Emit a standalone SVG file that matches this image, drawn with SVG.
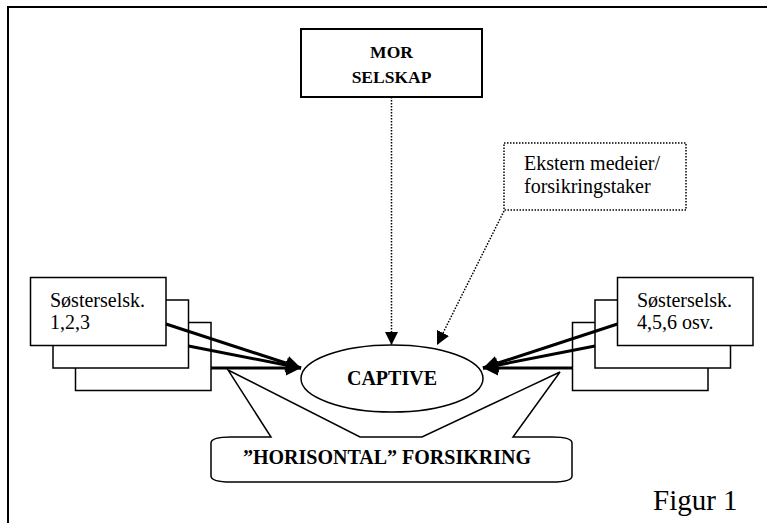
<svg xmlns="http://www.w3.org/2000/svg" width="767" height="523" viewBox="0 0 767 523">
<defs>
<style>
.box{fill:#fff;stroke:#000;stroke-width:1.5}
.bold{font-family:"Liberation Serif","Times New Roman",serif;font-weight:bold;fill:#000}
.reg{font-family:"Liberation Serif","Times New Roman",serif;fill:#000}
.thick{stroke:#000;stroke-width:3;fill:none;marker-end:url(#big)}
.dot{stroke:#000;stroke-width:1.5;stroke-dasharray:1.5 1.5;fill:none;marker-end:url(#small)}
</style>
<marker id="big" viewBox="0 0 10 10" refX="10" refY="5" markerWidth="5.5" markerHeight="5" markerUnits="strokeWidth" orient="auto">
<path d="M0,0 L10,5 L0,10 Z" fill="#000"/>
</marker>
<marker id="small" viewBox="0 0 10 10" refX="10" refY="5" markerWidth="9" markerHeight="9" markerUnits="strokeWidth" orient="auto">
<path d="M0,0 L10,5 L0,10 Z" fill="#000"/>
</marker>
</defs>
<rect width="767" height="523" fill="#fff"/>
<path d="M8,523 L8,7 L767,7" fill="none" stroke="#000" stroke-width="2"/>

<g id="mor">
<rect x="301" y="29" width="181" height="68" fill="#fff" stroke="#000" stroke-width="2"/>
<text class="bold" font-size="17.5" x="391.5" y="58" text-anchor="middle">MOR</text>
<text class="bold" font-size="17.5" x="391.5" y="83" text-anchor="middle">SELSKAP</text>
</g>

<g id="ekstern">
<rect x="504" y="143" width="182" height="67" fill="#fff" stroke="#000" stroke-width="1.5" stroke-dasharray="1.5 1.5"/>
<text class="reg" font-size="20" x="524" y="170">Ekstern medeier/</text>
<text class="reg" font-size="20" x="524" y="193">forsikringstaker</text>
</g>

<g id="horisontal">
<path class="box" d="M231,437 L271,437 L228,370 L360,437 L422,437 L560,372 L513,437 L552,437 Q572,437 572,443 L572,476 Q572,482 552,482 L231,482 Q211,482 211,476 L211,443 Q211,437 231,437 Z"/>
<text class="bold" font-size="20" x="387" y="464" text-anchor="middle">”HORISONTAL” FORSIKRING</text>
</g>

<g id="soster-left">
<rect class="box" x="75.5" y="322.5" width="135.5" height="68"/>
<rect class="box" x="53" y="300" width="135.5" height="68"/>
<rect class="box" x="30.5" y="277.5" width="135.5" height="68"/>
<text class="reg" font-size="20" x="50" y="307">Søsterselsk.</text>
<text class="reg" font-size="20" x="50" y="329">1,2,3</text>
</g>

<g id="soster-right">
<rect class="box" x="572.5" y="322.5" width="135.5" height="68"/>
<rect class="box" x="595" y="300" width="135.5" height="68"/>
<rect class="box" x="617.5" y="277.5" width="135.5" height="68"/>
<text class="reg" font-size="20" x="637" y="307">Søsterselsk.</text>
<text class="reg" font-size="20" x="637" y="329">4,5,6 osv.</text>
</g>

<g id="captive">
<ellipse cx="392" cy="378.5" rx="91" ry="33.5" fill="#fff" stroke="#000" stroke-width="1.5"/>
<text class="bold" font-size="20" x="392" y="385" text-anchor="middle">CAPTIVE</text>
</g>

<g id="connectors">
<line class="dot" x1="391.5" y1="97" x2="391.5" y2="345"/>
<line class="dot" x1="504" y1="211" x2="437" y2="345"/>
<line class="thick" x1="166" y1="324" x2="301" y2="368"/>
<line class="thick" x1="188.5" y1="346" x2="301" y2="368"/>
<line class="thick" x1="211" y1="368" x2="301" y2="368"/>
<line class="thick" x1="617.5" y1="324" x2="483" y2="368"/>
<line class="thick" x1="595" y1="346" x2="483" y2="368"/>
<line class="thick" x1="572.5" y1="368" x2="483" y2="368"/>
</g>

<text class="reg" font-size="29" x="653" y="510">Figur 1</text>
</svg>
